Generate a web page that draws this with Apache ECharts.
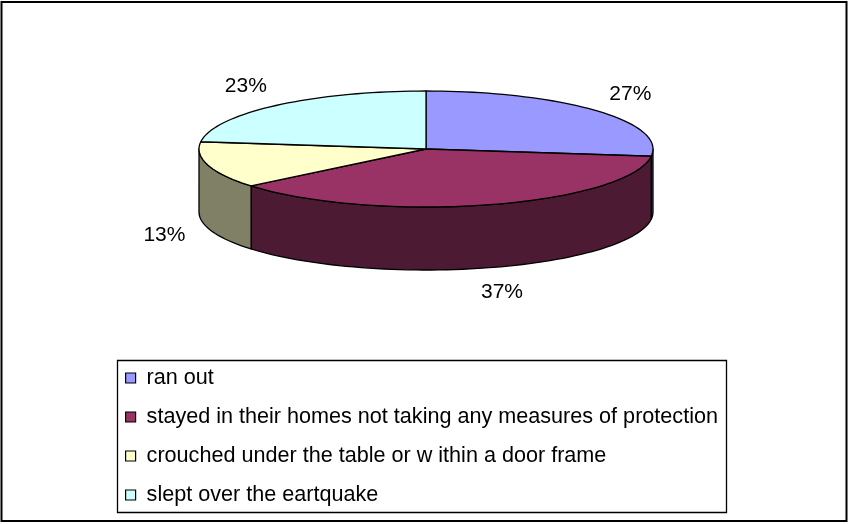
<!DOCTYPE html>
<html>
<head>
<meta charset="utf-8">
<script src="https://cdn.jsdelivr.net/npm/echarts@6/dist/echarts.min.js"></script>
<style>
  html, body { margin: 0; padding: 0; background: #fff; }
  #main { width: 848px; height: 524px; }
</style>
</head>
<body>
<div id="main"></div>
<script>
// data
const categories = [
  'ran out',
  'stayed in their homes not taking any measures of protection',
  'crouched under the table or w ithin a door frame',
  'slept over the eartquake'
];
const values = [27, 37, 13, 23];
const topColors = ['#9999FF', '#993366', '#FFFFCC', '#CCFFFF'];
const sideColors = ['#4D4D80', '#4D1A33', '#808066', '#668080'];

const total = values.reduce((a, b) => a + b, 0);

// ellipse of the pie top, and its thickness
const CX = 426, CY = 149, RX = 227, RY = 58, DEPTH = 63;

function pt(deg, dy) {
  const r = deg * Math.PI / 180;
  return [CX + RX * Math.sin(r), CY - RY * Math.cos(r) + (dy || 0)];
}

function arcPoints(a0, a1, dy) {
  const pts = [];
  const n = Math.max(2, Math.ceil((a1 - a0) / 2));
  for (let k = 0; k <= n; k++) pts.push(pt(a0 + (a1 - a0) * k / n, dy));
  return pts;
}

function renderSlice(params, api) {
  const i = params.seriesIndex;
  const v = api.value(0);
  let before = 0;
  for (let k = 0; k < i; k++) before += values[k];
  const a0 = before / total * 360;
  const a1 = a0 + v / total * 360;
  const children = [];

  // front wall (only the part between 90 and 270 deg shows)
  const w0 = Math.max(a0, 90), w1 = Math.min(a1, 270);
  if (w1 > w0) {
    const top = arcPoints(w0, w1, 0);
    const bot = arcPoints(w0, w1, DEPTH).reverse();
    children.push({
      type: 'polygon',
      shape: { points: top.concat(bot) },
      style: { fill: sideColors[i], stroke: '#000', lineWidth: 1.3, lineJoin: 'round' }
    });
  }

  // top face
  children.push({
    type: 'polygon',
    shape: { points: [[CX, CY]].concat(arcPoints(a0, a1, 0)) },
    style: { fill: topColors[i], stroke: '#000', lineWidth: 1.3, lineJoin: 'round' }
  });

  // percent label outside the slice
  const mid = (a0 + a1) / 2 * Math.PI / 180;
  const lx = CX + RX * 1.2 * Math.sin(mid);
  let ly = CY - RY * 1.44 * Math.cos(mid);
  if (Math.cos(mid) < 0) ly += DEPTH;
  children.push({
    type: 'text',
    x: lx, y: ly,
    style: {
      text: Math.round(v / total * 100) + '%',
      fill: '#000',
      font: '21px "Liberation Sans", Arial, sans-serif',
      align: 'center',
      verticalAlign: 'middle'
    }
  });

  return { type: 'group', children: children };
}

const chart = echarts.init(document.getElementById('main'));

chart.setOption({
  animation: false,
  textStyle: { fontFamily: '"Liberation Sans", Arial, sans-serif' },
  graphic: [
    {
      type: 'rect',
      shape: { x: 1.5, y: 2, width: 845, height: 519 },
      style: { fill: 'none', stroke: '#000', lineWidth: 2 },
      z: 0
    },
    {
      type: 'rect',
      shape: { x: 117.5, y: 360.5, width: 609, height: 152 },
      style: { fill: 'none', stroke: '#000', lineWidth: 1.3 },
      z: 0
    }
  ],
  legend: {
    orient: 'vertical',
    left: 125,
    top: 367,
    padding: 0,
    itemWidth: 10,
    itemHeight: 10,
    itemGap: 17,
    icon: 'rect',
    itemStyle: { borderColor: '#000', borderWidth: 1.2 },
    textStyle: { fontSize: 21.6, lineHeight: 22, color: '#000', padding: [0, 0, 0, 6] },
    selectedMode: false,
    data: categories
  },
  series: categories.map((name, i) => ({
    type: 'custom',
    name: name,
    coordinateSystem: 'none',
    silent: true,
    itemStyle: { color: topColors[i] },
    renderItem: renderSlice,
    data: [[values[i]]]
  }))
});
</script>
</body>
</html>
